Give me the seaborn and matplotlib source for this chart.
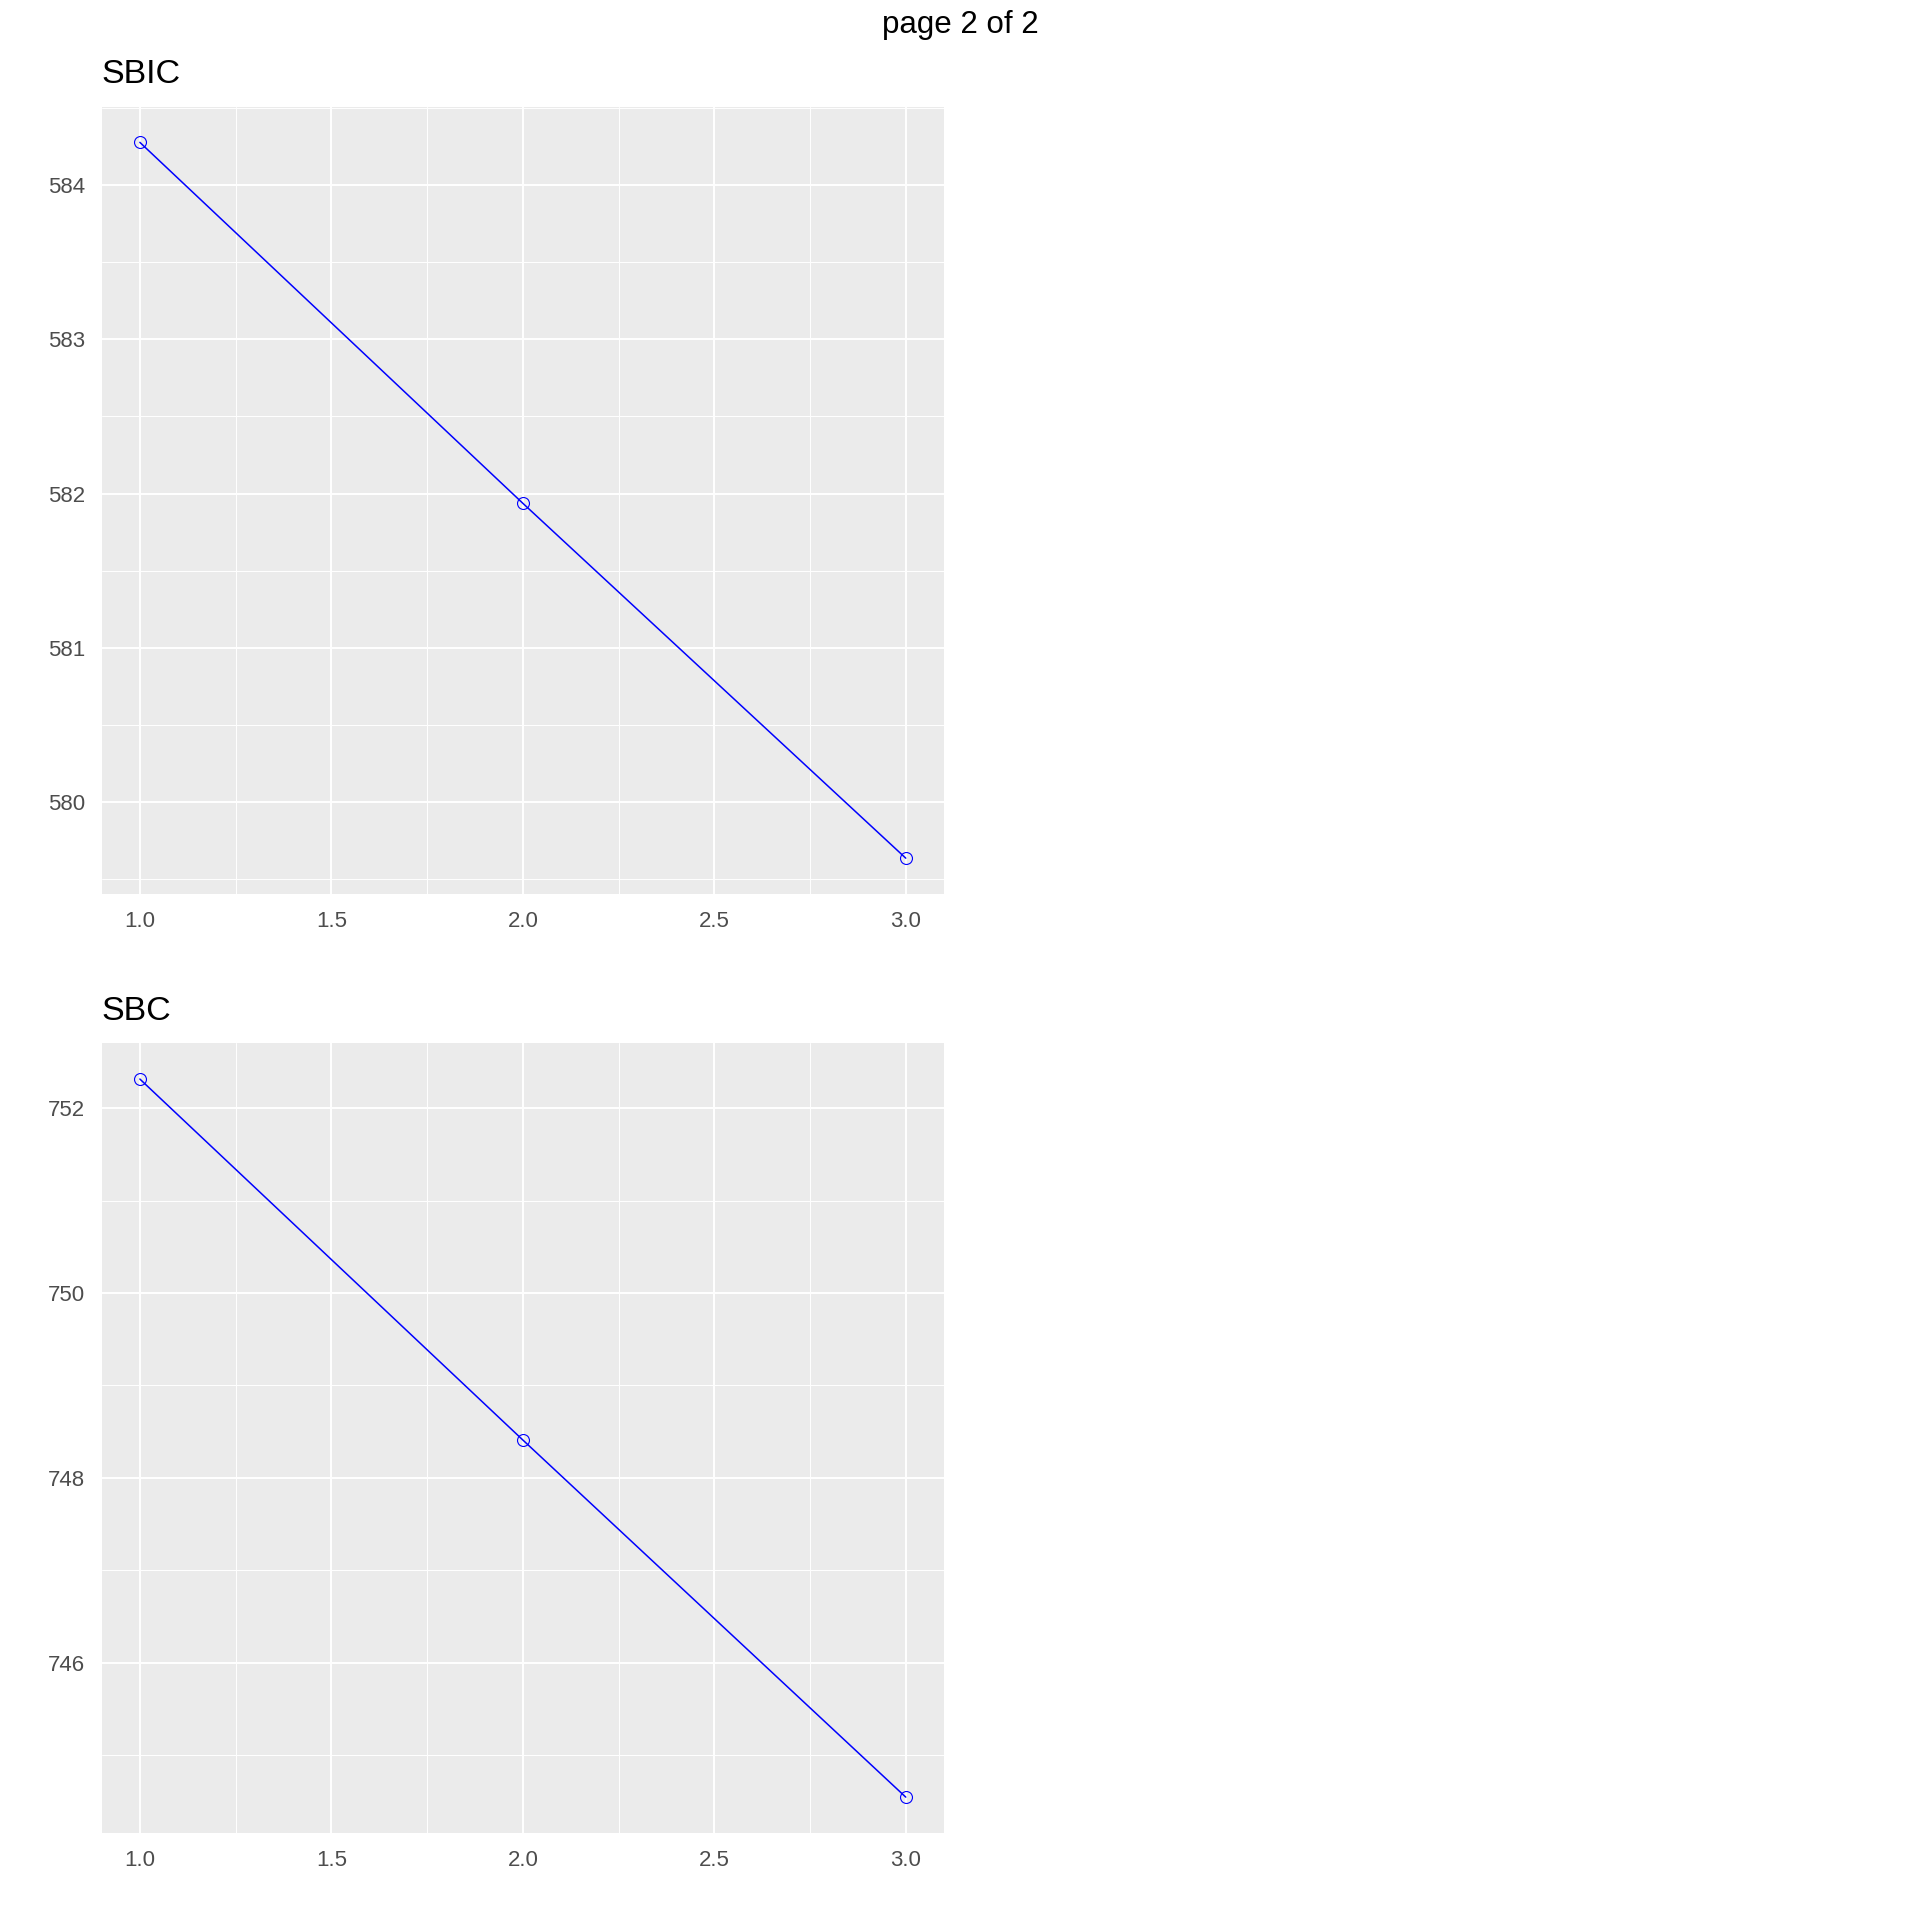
import matplotlib
matplotlib.use("Agg")
import matplotlib.pyplot as plt
from matplotlib.ticker import MultipleLocator
import pandas as pd
import seaborn as sns

# Data
steps = [1, 2, 3]
sbic = [584.277, 581.937, 579.636]
sbc = [752.318, 748.41, 744.543]
panel_titles = ["SBIC", "SBC"]

sns.set_theme(style="darkgrid", rc={
    "axes.facecolor": "#EBEBEB",
    "grid.color": "white",
})
plt.rcParams["font.family"] = ["Liberation Sans", "DejaVu Sans"]

fig = plt.figure(figsize=(19.2, 19.2), dpi=100)
ax_top = fig.add_axes([0.0529, 0.5344, 0.4388, 0.4101])
ax_bot = fig.add_axes([0.0529, 0.0453, 0.4388, 0.4114])

df = pd.DataFrame({"step": steps, "SBIC": sbic, "SBC": sbc})

for ax, col, ymaj in [(ax_top, "SBIC", 1), (ax_bot, "SBC", 2)]:
    sns.lineplot(data=df, x="step", y=col, ax=ax, color="blue", linewidth=1.1,
                 marker="o", markersize=8.6, markerfacecolor="none",
                 markeredgecolor="blue", markeredgewidth=0.8)
    vals = df[col]
    rng = vals.max() - vals.min()
    ax.set_ylim(vals.min() - 0.05 * rng, vals.max() + 0.05 * rng)
    ax.set_xlim(0.9, 3.1)
    ax.xaxis.set_major_locator(MultipleLocator(0.5))
    ax.xaxis.set_minor_locator(MultipleLocator(0.25))
    ax.yaxis.set_major_locator(MultipleLocator(ymaj))
    ax.yaxis.set_minor_locator(MultipleLocator(ymaj / 2))
    ax.xaxis.set_major_formatter(matplotlib.ticker.FormatStrFormatter("%.1f"))
    ax.grid(which="major", color="white", linewidth=1.4)
    ax.grid(which="minor", color="white", linewidth=0.7)
    ax.set_axisbelow(True)
    for s in ax.spines.values():
        s.set_visible(False)
    ax.tick_params(axis="both", which="both", length=0, labelsize=16,
                   labelcolor="#4D4D4D", pad=12)
    ax.set_xlabel("")
    ax.set_ylabel("")
    ax.set_title(col, loc="left", fontsize=24.5, pad=17, color="black")

fig.text(0.5, 0.9868, "page 2 of 2", ha="center", va="center", fontsize=22.5,
         color="black")

fig.savefig("out.png", dpi=100)
